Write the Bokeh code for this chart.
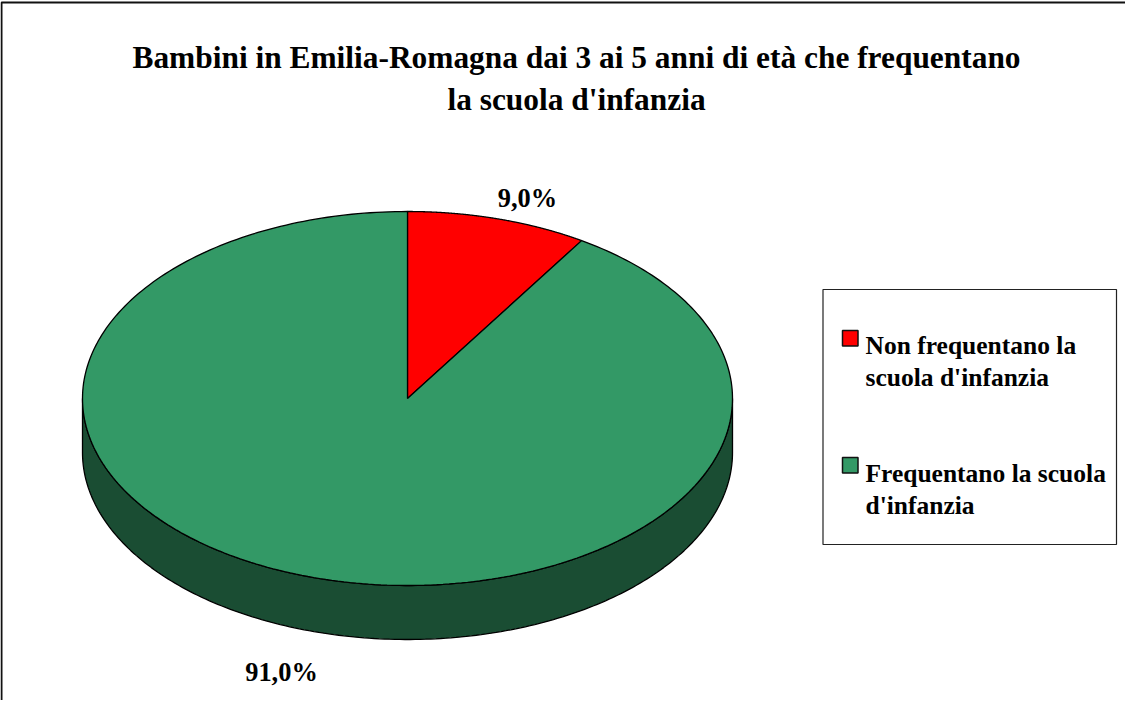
import numpy as np
from bokeh.plotting import figure
from bokeh.models import Range1d
from bokeh.core.properties import value
from bokeh.embed import file_html
from bokeh.resources import INLINE

categories = ["Non frequentano la scuola d'infanzia", "Frequentano la scuola d'infanzia"]
values = [9.0, 91.0]
value_labels = ["9,0%", "91,0%"]
colors = ["#FF0000", "#339966"]
side_color = "#1A4D33"
title_lines = ["Bambini in Emilia-Romagna dai 3 ai 5 anni di età che frequentano", "la scuola d'infanzia"]
legend_lines = [["Non frequentano la", "scuola d'infanzia"], ["Frequentano la scuola", "d'infanzia"]]

W, H = 1125, 700
OX, OY = 8, 8
FONT = value("Liberation Serif")

p = figure(width=W, height=H, output_backend="svg", toolbar_location=None,
           x_range=Range1d(OX, OX + W), y_range=Range1d(OY + H, OY),
           min_border=0, outline_line_color=None)
p.xaxis.visible = False
p.yaxis.visible = False
p.grid.visible = False
p.background_fill_color = "white"

# chart frame
p.line([9, 9, 1141], [OY + H, 10, 10], line_color="#111111", line_width=2)

CX, CY, RX, RY, DEPTH = 415, 406, 325, 187, 54

def ell(t):
    return CX + RX * np.sin(t), CY - RY * np.cos(t)

# side band
t = np.linspace(np.pi / 2, 3 * np.pi / 2, 200)
ex, ey = ell(t)
p.patch(np.r_[ex, ex[::-1]], np.r_[ey, ey[::-1] + DEPTH],
        fill_color=side_color, line_color="black", line_width=1.3)

# top slices
start = 0.0
for v, c in zip(values, colors):
    a0, a1 = start, start + v / sum(values) * 2 * np.pi
    t = np.linspace(a0, a1, 300)
    ex, ey = ell(t)
    p.patch(np.r_[CX, ex], np.r_[CY, ey], fill_color=c, line_color="black", line_width=1.3)
    start = a1

def txt(x, y, s, size, align="left"):
    p.text([x], [y], text=[s], text_font=FONT, text_font_style="bold",
           text_font_size=f"{size}px", text_color="black",
           text_align=align, text_baseline="alphabetic")

txt(584, 65, title_lines[0], 31.4, "center")
txt(584, 107, title_lines[1], 31.4, "center")
txt(535, 205, value_labels[0], 26.4, "center")
txt(289, 679, value_labels[1], 26.4, "center")

# legend
p.quad(left=[830.5], right=[1124], top=[297], bottom=[552], fill_color="white",
       line_color="#222222", line_width=1.2)
for i, c in enumerate(colors):
    y0 = [338, 465][i]
    p.quad(left=[850], right=[865.5], top=[y0], bottom=[y0 + 15.5], fill_color=c,
           line_color="#111111", line_width=1.5)
    base = [353, 481][i]
    for j, s in enumerate(legend_lines[i]):
        txt(873, base + j * 32, s, 25.5)

open("out.html", "w").write(file_html(p, INLINE))
